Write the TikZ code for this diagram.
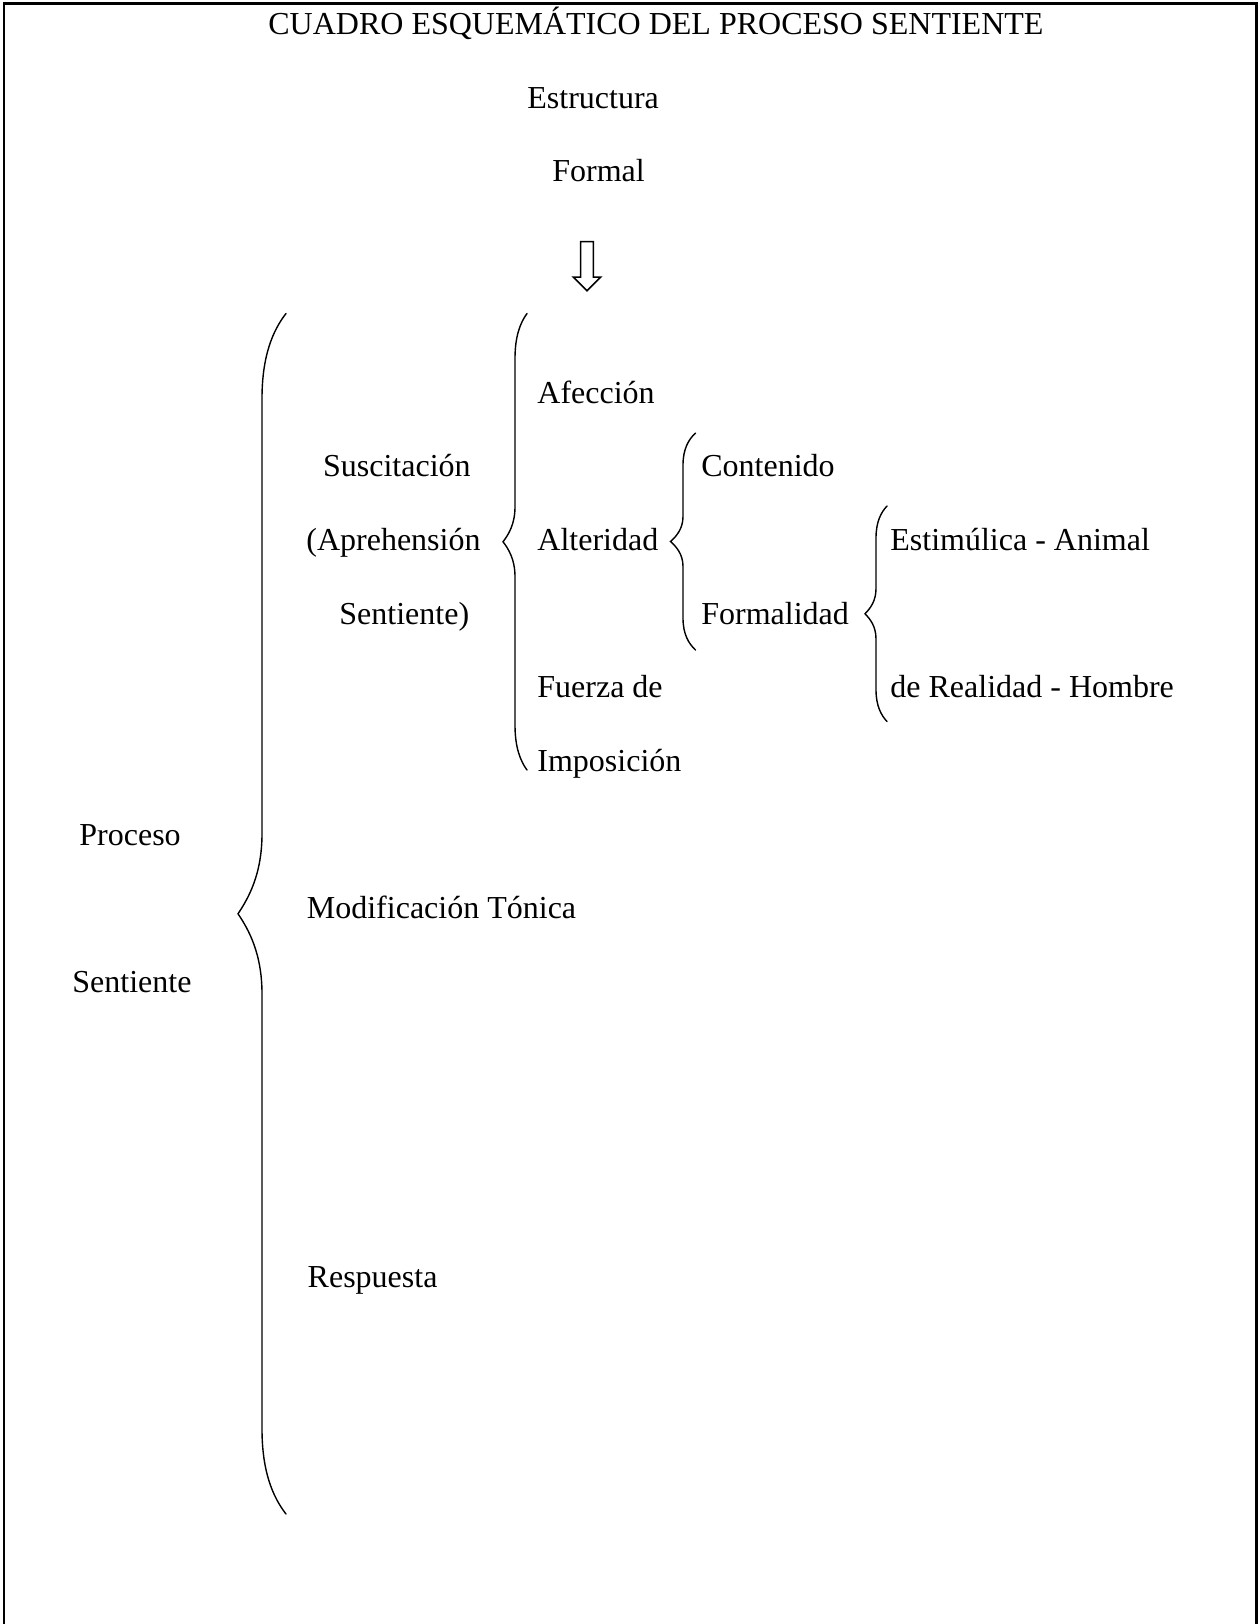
\documentclass[tikz,border=0pt]{standalone}
\usepackage{fontspec}
\setmainfont{Liberation Serif}
% #1 line x, #2 half width, #3 top y, #4 bottom y, #5 end curl height, #6 tip curve height
\newcommand{\drawbrace}[6]{%
  \pgfmathsetmacro\bmid{(#3+#4)/2}%
  \draw[brace line] ({#1+#2},#3) .. controls ({#1+0.45*#2},{#3+0.2*#5}) and (#1,{#3+0.5*#5}) .. (#1,{#3+#5})
    -- (#1,{\bmid-#6}) .. controls (#1,{\bmid-0.5*#6}) and ({#1-0.55*#2},{\bmid-0.2*#6}) .. ({#1-#2},\bmid)
    .. controls ({#1-0.55*#2},{\bmid+0.2*#6}) and (#1,{\bmid+0.5*#6}) .. (#1,{\bmid+#6})
    -- (#1,{#4-#5}) .. controls (#1,{#4-0.5*#5}) and ({#1+0.45*#2},{#4-0.2*#5}) .. ({#1+#2},#4);
}
\begin{document}
\begin{tikzpicture}[x=0.5pt,y=-0.5pt,
  lbl/.style={font=\fontsize{16}{19}\selectfont, inner sep=0pt, anchor=base west},
  frame line/.style={line width=1.25pt},
  brace line/.style={line width=0.7pt, line cap=round},
  hollow arrow/.style={line width=0.75pt, line join=miter}]
\useasboundingbox (0,0) rectangle (1258,1624);
\draw[frame line] (4,1624) -- (4,3.5) -- (1256.5,3.5) -- (1256.5,1624);

% rows: baseline = 403 + 73.7 r
\node[lbl] (title) at (268,34.5) {CUADRO ESQUEMÁTICO DEL PROCESO SENTIENTE};
\node[lbl] (estructura) at (527,108.2) {Estructura};
\node[lbl] (formal) at (552,181.9) {Formal};

\draw[hollow arrow] (580.7,241.7) -- (593.3,241.7) -- (593.3,277) -- (600.7,277) -- (587,290.7)
  -- (573.3,277) -- (580.7,277) -- cycle;

\node[lbl] (proceso) at (79,845.2) {Proceso};
\node[lbl] (sentiente) at (72,992.6) {Sentiente};

\node[lbl] (suscitacion) at (322.7,476.7) {Suscitación};
\node[lbl] (aprehension) at (306,550.4) {(Aprehensión};
\node[lbl] (sentiente2) at (339,624.1) {Sentiente)};
\node[lbl] (modificacion) at (306.5,918.9) {Modificación Tónica};
\node[lbl] (respuesta) at (307.3,1287.4) {Respuesta};

\node[lbl] (afeccion) at (537,403) {Afección};
\node[lbl] (alteridad) at (537,550.4) {Alteridad};
\node[lbl] (fuerza) at (537,697.8) {Fuerza de};
\node[lbl] (imposicion) at (537,771.5) {Imposición};

\node[lbl] (contenido) at (701,476.7) {Contenido};
\node[lbl] (formalidad) at (701,624.1) {Formalidad};

\node[lbl] (estimulica) at (890,550.4) {Estimúlica - Animal};
\node[lbl] (realidad) at (890,697.8) {de Realidad - Hombre};

\drawbrace{262}{24}{313.5}{1514}{85}{80}
\drawbrace{515}{12}{313.5}{770}{45}{35}
\drawbrace{683}{12.5}{433}{650}{32}{25}
\drawbrace{876}{11}{506}{721.5}{32}{25}
\end{tikzpicture}
\end{document}
